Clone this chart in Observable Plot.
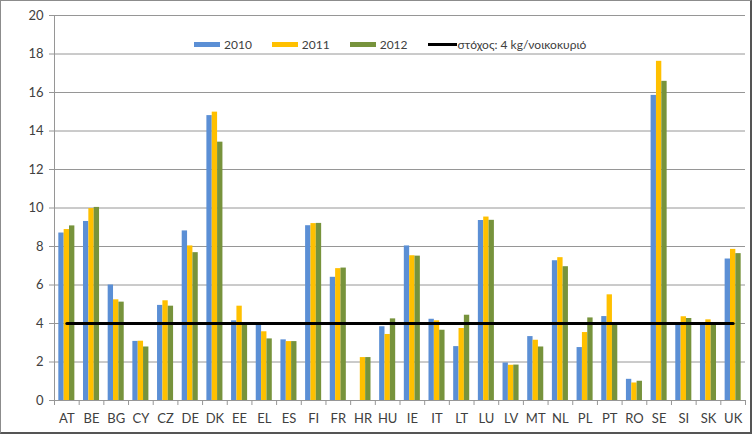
<!DOCTYPE html>
<html>
<head>
<meta charset="utf-8">
<script src="https://cdn.jsdelivr.net/npm/d3@7"></script>
<script src="https://cdn.jsdelivr.net/npm/@observablehq/plot@0.6"></script>
<style>
  body { margin: 0; background: #fff; }
  #wrap { position: relative; width: 752px; height: 436px; overflow: hidden; font-family: Lato, "Open Sans", sans-serif; }
  #frame { position: absolute; left: 0; top: 0; width: 749px; height: 431px; border: 1px solid #8c8c8c; border-right: 2px solid #555; border-bottom: 2px solid #555; pointer-events: none; }
  #legend { position: absolute; left: 194px; top: 37px; display: flex; align-items: center; font-size: 12px; color: #404040; white-space: nowrap; }
  #legend .item { display: flex; align-items: center; margin-right: 20px; }
  #legend .sw { width: 26px; height: 5px; margin-right: 4px; }
  #legend .ln { width: 29px; height: 3px; background: #000; margin-right: 1px; }
</style>
</head>
<body>
<div id="wrap">
  <div id="chart"></div>
  <div id="legend"></div>
  <div id="frame"></div>
</div>
<script>
const countries = ["AT","BE","BG","CY","CZ","DE","DK","EE","EL","ES","FI","FR","HR","HU","IE","IT","LT","LU","LV","MT","NL","PL","PT","RO","SE","SI","SK","UK"];
const years = ["2010","2011","2012"];
const v2010 = [8.7, 9.3, 6.0, 3.07, 4.94, 8.81, 14.8, 4.14, 3.98, 3.15, 9.08, 6.4, null, 3.83, 8.03, 4.22, 2.8, 9.35, 1.95, 3.32, 7.26, 2.75, 4.36, 1.1, 15.85, 3.98, 3.98, 7.35];
const v2011 = [8.88, 9.97, 5.23, 3.08, 5.18, 8.03, 14.98, 4.9, 3.57, 3.06, 9.19, 6.85, 2.23, 3.43, 7.52, 4.14, 3.74, 9.53, 1.83, 3.13, 7.42, 3.53, 5.49, 0.91, 17.62, 4.35, 4.19, 7.85];
const v2012 = [9.07, 10.03, 5.11, 2.78, 4.9, 7.68, 13.42, 3.98, 3.2, 3.06, 9.2, 6.88, 2.23, 4.24, 7.5, 3.65, 4.43, 9.36, 1.84, 2.78, 6.95, 4.29, 3.98, 1.0, 16.58, 4.26, 3.98, 7.63];
const target = 4;
const targetLabel = "στόχος: 4 kg/νοικοκυριό";
const colors = ["#5B8FD5", "#FFC000", "#77933C"];
const yTicks = [0,2,4,6,8,10,12,14,16,18,20];

const series = [v2010, v2011, v2012];
const data = [];
countries.forEach((c, i) => years.forEach((y, j) => {
  if (series[j][i] != null) data.push({country: c, year: y, value: series[j][i]});
}));

const W = 752, H = 436;
const mL = 54, mR = 7, mT = 15, mB = 36;
const bw = (W - mL - mR) / countries.length;
const groupW = bw * 0.65;
const barW = groupW / 3;
const gap = (bw - groupW) / 2;

const bars = years.map((y, j) => Plot.barY(data.filter(d => d.year === y), {
  x: "country", y: "value", fill: colors[j],
  insetLeft: gap + j * barW,
  insetRight: bw - gap - (j + 1) * barW
}));

const chart = Plot.plot({
  width: W, height: H,
  marginLeft: mL, marginRight: mR, marginTop: mT, marginBottom: mB,
  style: {fontFamily: "Lato, 'Open Sans', sans-serif", fontSize: "13px", color: "#404040", background: "transparent"},
  x: {domain: countries, padding: 0, round: false, label: null},
  y: {domain: [0, 20], label: null},
  marks: [
    Plot.ruleY(yTicks.filter(t => t > 0), {stroke: "#969696", strokeWidth: 1}),
    Plot.axisY({ticks: yTicks, tickSize: 5, tickPadding: 6, stroke: "#969696", fill: "#404040", label: null}),
    Plot.axisX({tickSize: 0, tickPadding: 13, fill: "#404040", label: null}),
    ...bars,
    Plot.ruleY([0], {stroke: "#969696"}),
    Plot.ruleX([countries[0]], {x: d => d, dx: -bw / 2, y1: -0.26, y2: 20, stroke: "#969696"}),
    Plot.ruleX(countries.slice(1), {x: d => d, dx: -bw / 2, y1: -0.26, y2: 0, stroke: "#969696"}),
    Plot.ruleX([countries[countries.length - 1]], {x: d => d, dx: bw / 2, y1: -0.26, y2: 0, stroke: "#969696"}),
    Plot.lineY(countries, {x: d => d, y: () => target, stroke: "#000", strokeWidth: 3})
  ]
});
document.getElementById("chart").appendChild(chart);

const legend = document.getElementById("legend");
years.forEach((y, j) => {
  const it = document.createElement("div");
  it.className = "item";
  it.innerHTML = `<span class="sw" style="background:${colors[j]}"></span><span>${y}</span>`;
  legend.appendChild(it);
});
const tl = document.createElement("div");
tl.className = "item";
tl.innerHTML = `<span class="ln"></span><span>${targetLabel}</span>`;
legend.appendChild(tl);
</script>
</body>
</html>
